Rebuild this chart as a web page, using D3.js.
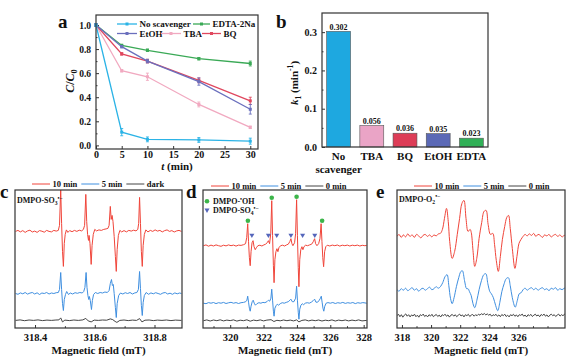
<!DOCTYPE html>
<html>
<head>
<meta charset="utf-8">
<script src="https://cdn.jsdelivr.net/npm/d3@7"></script>
<style>
body { margin: 0; background: #fff; }
svg { display: block; font-family: "Liberation Serif", "Times New Roman", serif; font-weight: bold; }
</style>
</head>
<body>
<svg id="fig" width="575" height="364"></svg>
<script>
// ---- panel a: C/C0 vs time ----
const times = [0, 5, 10, 20, 30];
const seriesNames = ["No scavenger", "EDTA-2Na", "EtOH", "TBA", "BQ"];
const noScavenger = [1.0, 0.11, 0.05, 0.045, 0.035];
const edta = [1.0, 0.83, 0.79, 0.72, 0.68];
const etoh = [1.0, 0.82, 0.70, 0.53, 0.30];
const tba = [1.0, 0.62, 0.57, 0.34, 0.15];
const bq = [1.0, 0.76, 0.70, 0.54, 0.37];
const noScavengerErr = [0.01, 0.03, 0.02, 0.02, 0.025];
const edtaErr = [0.01, 0.01, 0.01, 0.01, 0.02];
const etohErr = [0.01, 0.01, 0.015, 0.03, 0.04];
const tbaErr = [0.01, 0.01, 0.03, 0.02, 0.01];
const bqErr = [0.01, 0.01, 0.015, 0.02, 0.03];
const yTicksA = [0, 0.2, 0.4, 0.6, 0.8, 1.0];
const xTicksA = [0, 5, 10, 15, 20, 25, 30];

// ---- panel b: rate constants ----
const scavengers = ["No scavenger", "TBA", "BQ", "EtOH", "EDTA"];
const scavengerLabels = [["No", "scavenger"], ["TBA"], ["BQ"], ["EtOH"], ["EDTA"]];
const kValues = [0.302, 0.056, 0.036, 0.035, 0.023];
const yTicksB = [0, 0.1, 0.2, 0.3];

// ---- panel c: DMPO-SO3 spectra [field mT, intensity a.u.] ----
const cTicks = [318.4, 318.6, 318.8];
const c10 = [[318.335,0],[318.343,1],[318.351,-0.5],[318.359,0.8],[318.367,-1],[318.375,0.5],[318.383,1.2],[318.391,-0.6],[318.399,0.3],[318.407,-1],[318.415,0.8],[318.423,0.2],[318.431,-0.8],[318.439,1],[318.447,0],[318.455,-0.5],[318.463,1],[318.471,0.3],[318.478,1],[318.482,6],[318.486,42],[318.489,8],[318.492,-20],[318.495,-35],[318.498,-12],[318.501,-3],[318.505,1.5],[318.510,-1],[318.516,0.8],[318.524,-0.3],[318.532,1],[318.540,0],[318.548,1.2],[318.556,0.5],[318.562,2],[318.566,6],[318.570,37],[318.573,10],[318.576,-3],[318.579,-9],[318.581,-4],[318.584,-12],[318.588,-33],[318.591,-14],[318.595,-3],[318.600,2],[318.606,0.5],[318.614,1.5],[318.622,1],[318.630,2],[318.638,2.5],[318.644,3],[318.648,6],[318.652,25],[318.655,12],[318.658,16],[318.661,10],[318.665,-5],[318.669,-25],[318.672,-40],[318.675,-18],[318.679,-4],[318.684,1],[318.690,-0.5],[318.698,0.8],[318.706,-0.5],[318.714,1],[318.722,0.3],[318.730,1.2],[318.738,0.5],[318.744,2],[318.747,8],[318.750,34],[318.753,8],[318.756,-20],[318.759,-35],[318.762,-14],[318.766,-3],[318.771,1.5],[318.778,-0.5],[318.786,1],[318.794,0],[318.802,1.5],[318.810,0.3],[318.818,1],[318.826,-0.5],[318.834,0.8],[318.842,1.5],[318.850,0],[318.858,0.8],[318.866,-0.6],[318.874,0.5],[318.882,1],[318.890,0]];
const c5 = [[318.335,0],[318.343,-0.8],[318.351,0.6],[318.359,-0.3],[318.367,1],[318.375,-0.6],[318.383,0.4],[318.391,1],[318.399,-0.5],[318.407,0.7],[318.415,-1],[318.423,0.5],[318.431,0],[318.439,1],[318.447,-0.5],[318.455,0.5],[318.463,0],[318.471,0.8],[318.478,1],[318.482,4],[318.486,21],[318.489,4],[318.492,-10],[318.495,-17],[318.498,-6],[318.502,-1],[318.506,2],[318.512,-1],[318.518,0.5],[318.526,-0.5],[318.534,0.8],[318.542,0.2],[318.550,1],[318.558,0.5],[318.563,2],[318.567,6],[318.571,21],[318.574,6],[318.577,-2],[318.580,-6],[318.582,-3],[318.585,-7],[318.589,-16],[318.592,-7],[318.596,-1],[318.602,1],[318.610,0],[318.618,1],[318.626,0.5],[318.634,1.5],[318.642,1],[318.648,3],[318.652,10],[318.656,14],[318.659,8],[318.662,9],[318.665,0],[318.669,-14],[318.672,-24],[318.675,-10],[318.680,-2],[318.686,0.5],[318.694,-0.5],[318.702,0.8],[318.710,0],[318.718,1],[318.726,-0.5],[318.734,0.6],[318.741,1],[318.746,4],[318.750,22],[318.753,5],[318.756,-12],[318.759,-22],[318.762,-9],[318.766,-2],[318.772,1],[318.780,-0.8],[318.788,0.6],[318.796,-0.3],[318.804,0.8],[318.812,0],[318.820,-0.8],[318.828,0.5],[318.836,1],[318.844,-0.5],[318.852,0.3],[318.860,-0.8],[318.868,0.6],[318.876,-0.3],[318.884,0.5],[318.890,0]];
const cDark = [[318.335,0],[318.350,0.5],[318.365,-0.3],[318.380,0.4],[318.395,0],[318.410,0.5],[318.425,-0.2],[318.440,0.3],[318.455,0],[318.470,0.4],[318.480,0.5],[318.486,2.5],[318.492,-1.5],[318.500,0.3],[318.515,-0.2],[318.530,0.4],[318.545,0],[318.560,0.5],[318.570,2],[318.578,-0.5],[318.588,-1.5],[318.598,0.3],[318.612,0],[318.626,0.4],[318.640,0.2],[318.652,1.5],[318.660,0.8],[318.668,-1],[318.674,-2],[318.684,0],[318.698,0.4],[318.712,-0.2],[318.726,0.3],[318.740,0],[318.750,1.8],[318.758,-1.5],[318.768,0.2],[318.782,0.4],[318.796,-0.2],[318.810,0.3],[318.825,0],[318.840,0.4],[318.855,-0.2],[318.870,0.3],[318.890,0]];

// ---- panel d: DMPO-OH / DMPO-SO4 spectra ----
const dTicks = [320, 322, 324, 326, 328];
const dOH = [321.06, 322.49, 323.98, 325.51];
const dSO4 = [321.30, 322.29, 322.79, 323.64, 324.34, 325.07];
const d10 = [[318.40,0],[318.55,0.8],[318.70,-0.5],[318.85,0.6],[319.00,-0.3],[319.15,0.8],[319.30,0],[319.45,-0.6],[319.60,0.5],[319.75,-0.2],[319.90,0.8],[320.05,0],[320.20,0.6],[320.35,-0.4],[320.50,0.6],[320.65,0.3],[320.80,1],[320.92,2],[320.99,8],[321.05,22],[321.10,4],[321.15,-12],[321.20,-20],[321.25,-6],[321.31,3],[321.37,5],[321.43,-1],[321.50,-4],[321.57,-2],[321.66,0],[321.78,0.5],[321.90,-0.3],[322.02,0.8],[322.12,1.5],[322.22,3],[322.29,5],[322.36,2],[322.43,12],[322.49,45],[322.54,10],[322.59,-20],[322.63,-37],[322.68,-14],[322.74,-6],[322.80,-3],[322.86,-6],[322.92,-2],[323.02,0],[323.14,0.5],[323.26,-0.3],[323.38,0.8],[323.48,1.5],[323.57,4],[323.64,7],[323.70,2],[323.76,0],[323.86,3],[323.92,12],[323.98,46],[324.03,10],[324.08,-22],[324.12,-41],[324.17,-14],[324.23,-4],[324.30,-1],[324.36,-4],[324.42,-1],[324.52,0.5],[324.64,0],[324.76,0.8],[324.88,1.5],[324.98,4],[325.06,7],[325.12,2],[325.20,0],[325.30,2],[325.38,7],[325.45,22],[325.50,4],[325.55,-12],[325.60,-21],[325.66,-6],[325.73,-1],[325.82,0.5],[325.97,-0.3],[326.12,0.6],[326.27,0],[326.42,0.7],[326.57,-0.4],[326.72,0.5],[326.87,0],[327.02,0.6],[327.17,-0.3],[327.32,0.5],[327.47,0],[327.62,0.6],[327.77,-0.3],[327.92,0.4],[328.07,0],[328.18,0.3]];
const d5 = [[318.40,0],[318.55,-0.5],[318.70,0.6],[318.85,0],[319.00,0.7],[319.15,-0.4],[319.30,0.5],[319.45,0],[319.60,0.8],[319.75,-0.3],[319.90,0.4],[320.05,0.9],[320.20,0],[320.35,0.6],[320.50,-0.3],[320.65,0.5],[320.80,0.8],[320.93,1.5],[321.00,3],[321.05,7],[321.10,1],[321.15,-5],[321.20,-8],[321.25,-3],[321.32,1.5],[321.38,3],[321.44,0],[321.51,-2],[321.60,-0.5],[321.72,0.5],[321.84,0],[321.96,0.8],[322.08,0.5],[322.20,1.5],[322.29,3],[322.37,2],[322.44,5],[322.49,14],[322.54,3],[322.59,-8],[322.63,-13],[322.68,-5],[322.75,-2.5],[322.82,-1],[322.90,-2],[323.00,-0.5],[323.12,0.5],[323.24,0],[323.36,0.8],[323.48,1.5],[323.58,3],[323.64,4],[323.72,1.5],[323.82,1.5],[323.92,5],[323.98,17],[324.03,3],[324.08,-9],[324.12,-16],[324.17,-6],[324.24,-2],[324.32,-0.5],[324.40,-1.5],[324.50,0],[324.62,0.5],[324.74,0],[324.86,1],[324.97,2.5],[325.06,4],[325.14,1],[325.24,1],[325.34,3],[325.41,5],[325.46,7],[325.51,1],[325.56,-5],[325.61,-8],[325.67,-3],[325.75,0],[325.86,0.6],[326.00,0],[326.15,0.7],[326.30,-0.3],[326.45,0.5],[326.60,0],[326.75,0.8],[326.90,-0.2],[327.05,0.5],[327.20,0],[327.35,0.7],[327.50,-0.4],[327.65,0.5],[327.80,0],[327.95,0.6],[328.18,0]];
const d0 = [[318.40,0],[318.60,0.8],[318.80,-0.3],[319.00,0.7],[319.20,0],[319.40,0.9],[319.60,-0.2],[319.80,0.6],[320.00,0.1],[320.20,0.8],[320.40,-0.4],[320.60,0.5],[320.80,0],[321.00,0.9],[321.20,-0.5],[321.40,0.6],[321.60,0],[321.80,0.8],[322.00,-0.2],[322.20,0.6],[322.45,1],[322.62,-0.8],[322.80,0.4],[323.00,-0.1],[323.20,0.7],[323.40,0],[323.60,0.6],[323.80,-0.2],[323.98,0.8],[324.12,-1.2],[324.30,0.3],[324.50,0.8],[324.70,-0.2],[324.90,0.6],[325.10,0],[325.30,0.7],[325.50,-0.3],[325.70,0.5],[325.90,0],[326.10,0.8],[326.30,-0.3],[326.50,0.6],[326.70,0],[326.90,0.7],[327.10,-0.2],[327.30,0.6],[327.50,0],[327.70,0.8],[327.90,-0.2],[328.18,0.3]];

// ---- panel e: DMPO-O2 spectra ----
const eTicks = [318, 320, 322, 324, 326];
const e10 = [[317.66,0],[317.80,2],[317.95,-1],[318.10,1.5],[318.25,-0.5],[318.40,2.5],[318.55,0],[318.70,1.5],[318.85,-1],[319.00,2],[319.15,0.5],[319.30,-1.5],[319.45,1],[319.60,2],[319.75,0],[319.90,1.5],[320.05,-0.5],[320.20,1.5],[320.35,0.5],[320.50,2.5],[320.64,3],[320.78,7],[320.92,18],[321.06,28],[321.18,15],[321.28,-5],[321.45,-22],[321.62,-15],[321.80,2],[321.96,18],[322.12,33],[322.26,36],[322.40,18],[322.54,5],[322.68,7],[322.76,4],[322.88,-14],[323.00,-30],[323.14,-22],[323.30,-2],[323.48,14],[323.64,25],[323.78,26],[323.92,12],[324.08,2],[324.24,3],[324.36,-8],[324.48,-24],[324.62,-35],[324.76,-20],[324.90,-3],[325.06,10],[325.20,19],[325.32,21],[325.44,8],[325.58,-12],[325.76,-32],[325.90,-20],[326.04,-7],[326.18,-3],[326.32,0],[326.46,2],[326.60,0.5],[326.75,2.5],[326.90,1],[327.05,3],[327.20,0],[327.35,2],[327.50,1],[327.65,-1],[327.80,1.5],[327.95,0.5],[328.10,2],[328.25,-0.5],[328.40,1],[328.55,2],[328.70,0],[328.85,1.5],[329.00,-0.5],[329.15,1],[329.28,0.5]];
const e5 = [[317.66,0],[317.80,-1.5],[317.95,1],[318.10,-0.5],[318.25,1.5],[318.40,-1],[318.55,0.5],[318.70,2],[318.85,-0.5],[319.00,1],[319.15,-1.5],[319.30,0.5],[319.45,1.5],[319.60,-0.5],[319.75,1],[319.90,2.5],[320.05,0],[320.20,1],[320.35,3],[320.50,1.5],[320.64,3],[320.80,7],[320.96,13],[321.10,15],[321.22,4],[321.34,-9],[321.45,-14],[321.58,-8],[321.74,3],[321.90,12],[322.04,18],[322.15,19],[322.30,9],[322.44,1],[322.54,1],[322.64,-2],[322.76,-6],[322.88,-14],[323.00,-18],[323.14,-11],[323.30,0],[323.46,9],[323.62,15],[323.76,16],[323.90,6],[324.04,-2],[324.14,-4],[324.28,-8],[324.44,-16],[324.58,-21],[324.72,-13],[324.86,-2],[325.02,6],[325.16,11],[325.31,12],[325.44,4],[325.58,-8],[325.78,-17.5],[325.92,-11],[326.06,-4],[326.19,-3],[326.32,0],[326.46,1.5],[326.60,-0.5],[326.75,1],[326.90,2],[327.05,0],[327.20,1.5],[327.35,-0.5],[327.50,1],[327.65,2],[327.80,0],[327.95,1],[328.10,-1],[328.25,1.5],[328.40,0.5],[328.55,2],[328.70,-0.5],[328.85,1],[329.00,0],[329.15,1.5],[329.28,0.5]];
const e0 = [[317.66,0],[317.76,1.5],[317.86,-1],[317.96,1],[318.06,-1.5],[318.16,0.5],[318.26,1.8],[318.36,-0.5],[318.46,1],[318.56,-1.2],[318.66,0.8],[318.76,-0.3],[318.86,1.5],[318.96,-1],[319.06,0.5],[319.16,-1.5],[319.26,1],[319.36,0],[319.46,1.6],[319.56,-0.8],[319.66,0.5],[319.76,-1.2],[319.86,1],[319.96,-0.4],[320.06,1.4],[320.16,-1],[320.26,0.3],[320.36,1.2],[320.46,-0.8],[320.56,0.6],[320.66,-1.3],[320.76,1],[320.86,0],[320.96,1.5],[321.06,-0.6],[321.16,0.8],[321.26,-1.4],[321.36,0.5],[321.46,1.2],[321.56,-0.5],[321.66,1],[321.76,-1],[321.86,0.4],[321.96,1.6],[322.06,-0.3],[322.16,0.8],[322.26,-1.2],[322.36,1],[322.46,0],[322.56,1.4],[322.66,-0.8],[322.76,0.6],[322.86,1.2],[322.96,-0.5],[323.06,1],[323.16,0],[323.26,1.5],[323.36,0.5],[323.46,2],[323.56,1],[323.66,2.2],[323.76,0.8],[323.86,1.8],[323.96,0.5],[324.06,1.5],[324.16,-0.5],[324.26,1],[324.36,0.2],[324.46,1.4],[324.56,-0.6],[324.66,0.8],[324.76,-1],[324.86,1.2],[324.96,0],[325.06,1.5],[325.16,-0.8],[325.26,0.5],[325.36,-1.2],[325.46,1],[325.56,0],[325.66,1.4],[325.76,-0.6],[325.86,0.8],[325.96,-1],[326.06,1],[326.16,0.3],[326.26,1.6],[326.36,-0.5],[326.46,0.6],[326.56,-1.2],[326.66,1],[326.76,0],[326.86,1.3],[326.96,-0.8],[327.06,0.5],[327.16,1.5],[327.26,-0.3],[327.36,0.8],[327.46,-1],[327.56,1.2],[327.66,0.2],[327.76,1.6],[327.86,-0.5],[327.96,0.8],[328.06,-1.2],[328.16,0.6],[328.26,1.5],[328.36,0],[328.46,1],[328.56,-0.8],[328.66,0.5],[328.76,1.6],[328.86,-0.4],[328.96,1],[329.06,0],[329.16,1.4],[329.28,0.3]];

const lineColors = ["#2bb3e6", "#3aa956", "#6a6fbd", "#f1a9c0", "#e0475e"];
const barColors = ["#1ea8e0", "#eaa4c6", "#dd3d57", "#5b69b6", "#30b057"];
const red = "#f0453a", blue = "#3f8fe0", dark = "#444";
const ink = "#333";

const svg = d3.select("#fig");

// rich text with sub/superscripts: parts = [[text, mode, italic]]
function rich(t, parts, size) {
  let shift = 0;
  parts.forEach(([s, mode, it]) => {
    const target = mode === "sub" ? size * 0.3 : mode === "sup" ? -size * 0.42 : 0;
    t.append("tspan")
      .attr("dy", target - shift)
      .attr("font-size", mode === "n" ? size : size * 0.7)
      .attr("font-style", it ? "italic" : null)
      .text(s);
    shift = target;
  });
  return t;
}

function box(p) {
  svg.append("rect")
    .attr("x", p.x0).attr("y", p.y0)
    .attr("width", p.x1 - p.x0).attr("height", p.y1 - p.y0)
    .attr("fill", "none").attr("stroke", ink).attr("stroke-width", 1.2);
}

function styleAxis(g, size) {
  g.select(".domain").remove();
  g.selectAll(".tick line").attr("stroke", ink).attr("stroke-width", 1);
  g.selectAll(".tick text").attr("fill", "#111").attr("font-size", size)
    .attr("font-family", "Liberation Serif, serif").attr("font-weight", "bold");
}

function letter(s, x, y) {
  svg.append("text").attr("x", x).attr("y", y).attr("font-size", 19).attr("fill", "#111").text(s);
}

// ================= panel a =================
const pa = { x0: 96, x1: 258, y0: 15, y1: 149 };
const xa = d3.scaleLinear().domain([0, 31.5]).range([pa.x0, pa.x1]);
const ya = d3.scaleLinear().domain([-0.03, 1.083]).range([pa.y1, pa.y0]);

svg.append("g").attr("transform", `translate(0,${pa.y1})`)
  .call(d3.axisBottom(xa).tickValues(xTicksA).tickSize(-3).tickPadding(1.5))
  .call(g => styleAxis(g, 10));
svg.append("g").attr("transform", `translate(${pa.x0},0)`)
  .call(d3.axisLeft(ya).tickValues(yTicksA).tickFormat(d3.format(".1f")).tickSize(-3).tickPadding(5))
  .call(g => styleAxis(g, 9.5));
svg.append("g").attr("transform", `translate(${pa.x0},0)`)
  .call(d3.axisLeft(ya).tickValues([0.1, 0.3, 0.5, 0.7, 0.9]).tickFormat("").tickSize(-1.5))
  .call(g => styleAxis(g, 10));

const seriesA = [noScavenger, edta, etoh, tba, bq];
const errA = [noScavengerErr, edtaErr, etohErr, tbaErr, bqErr];
const lineA = d3.line().x((d, i) => xa(times[i])).y(d => ya(d));
const drawOrder = [1, 3, 4, 2, 0];
drawOrder.forEach(k => {
  const vals = seriesA[k], col = lineColors[k];
  const g = svg.append("g");
  g.append("path").attr("d", lineA(vals)).attr("fill", "none").attr("stroke", col).attr("stroke-width", 1.3);
  vals.forEach((v, i) => {
    const x = xa(times[i]), e = errA[k][i];
    g.append("line").attr("x1", x).attr("x2", x).attr("y1", ya(v - e)).attr("y2", ya(v + e)).attr("stroke", col).attr("stroke-width", 0.9);
    [v - e, v + e].forEach(b => g.append("line").attr("x1", x - 1.5).attr("x2", x + 1.5).attr("y1", ya(b)).attr("y2", ya(b)).attr("stroke", col).attr("stroke-width", 0.9));
    g.append("rect").attr("x", x - 1.5).attr("y", ya(v) - 1.5).attr("width", 3).attr("height", 3).attr("fill", col);
  });
});
box(pa);

// legend a
const legA = [
  { k: 0, x: 117, w: 20, y: 24 }, { k: 1, x: 193, w: 17, y: 24 },
  { k: 2, x: 117, w: 20, y: 33.5 }, { k: 3, x: 161, w: 20, y: 33.5 }, { k: 4, x: 202, w: 19, y: 33.5 }
];
legA.forEach(l => {
  const col = lineColors[l.k];
  svg.append("line").attr("x1", l.x).attr("x2", l.x + l.w).attr("y1", l.y).attr("y2", l.y).attr("stroke", col).attr("stroke-width", 1.3);
  svg.append("rect").attr("x", l.x + l.w / 2 - 1.5).attr("y", l.y - 1.5).attr("width", 3).attr("height", 3).attr("fill", col);
  svg.append("text").attr("x", l.x + l.w + 2.5).attr("y", l.y + 3).attr("font-size", 9).attr("fill", "#111").text(seriesNames[l.k]);
});

rich(svg.append("text").attr("transform", "translate(73.5,81) rotate(-90)").attr("text-anchor", "middle").attr("fill", "#111"),
  [["C", "n", true], ["/", "n", false], ["C", "n", true], ["0", "sub", false]], 12);
rich(svg.append("text").attr("x", 177).attr("y", 169.5).attr("text-anchor", "middle").attr("fill", "#111"),
  [["t", "n", true], [" (min)", "n", false]], 11);
letter("a", 58, 28);

// ================= panel b =================
const pb = { x0: 322, x1: 488, y0: 13, y1: 147 };
const xb = d3.scaleBand().domain(scavengers).range([pb.x0, pb.x1]).paddingInner(0.28).paddingOuter(0.14);
const yb = d3.scaleLinear().domain([0, 0.35]).range([pb.y1, pb.y0]);

svg.append("g").attr("transform", `translate(${pb.x0},0)`)
  .call(d3.axisLeft(yb).tickValues(yTicksB).tickFormat(d3.format(".1f")).tickSize(-3).tickPadding(5))
  .call(g => styleAxis(g, 10));
svg.append("g").attr("transform", `translate(${pb.x0},0)`)
  .call(d3.axisLeft(yb).tickValues([0.05, 0.15, 0.25]).tickFormat("").tickSize(-1.5))
  .call(g => styleAxis(g, 10));

scavengers.forEach((s, i) => {
  svg.append("rect").attr("x", xb(s)).attr("y", yb(kValues[i]))
    .attr("width", xb.bandwidth()).attr("height", yb(0) - yb(kValues[i]))
    .attr("fill", barColors[i]).attr("stroke", "#555").attr("stroke-width", 0.6);
  svg.append("text").attr("x", xb(s) + xb.bandwidth() / 2).attr("y", yb(kValues[i]) - 1.8)
    .attr("text-anchor", "middle").attr("font-size", 8).attr("fill", "#111").text(d3.format(".3f")(kValues[i]));
  scavengerLabels[i].forEach((ln, j) => {
    svg.append("text").attr("x", xb(s) + xb.bandwidth() / 2).attr("y", 159.5 + j * 13)
      .attr("text-anchor", "middle").attr("font-size", 11).attr("fill", "#111").text(ln);
  });
});
box(pb);
rich(svg.append("text").attr("transform", "translate(298,83) rotate(-90)").attr("text-anchor", "middle").attr("fill", "#111"),
  [["k", "n", true], ["1", "sub", false], [" (min", "n", false], ["-1", "sup", false], [")", "n", false]], 11);
letter("b", 276, 28);

// ================= EPR panels =================
function eprPanel(p, domain, ticks, minor, tickFmt, traces, clipId) {
  const x = d3.scaleLinear().domain(domain).range([p.x0, p.x1]);
  const y = d3.scaleLinear().domain([0, p.y1 - p.y0]).range([p.y1, p.y0]);
  svg.append("clipPath").attr("id", clipId).append("rect")
    .attr("x", p.x0).attr("y", p.y0).attr("width", p.x1 - p.x0).attr("height", p.y1 - p.y0);
  const g = svg.append("g").attr("clip-path", `url(#${clipId})`);
  traces.forEach(t => {
    const line = d3.line().x(d => x(d[0])).y(d => y(t.offset + d[1])).curve(t.curve || d3.curveLinear);
    g.append("path").attr("d", line(t.data)).attr("fill", "none").attr("stroke", t.color).attr("stroke-width", 1).attr("stroke-linejoin", "round");
  });
  svg.append("g").attr("transform", `translate(0,${p.y1})`)
    .call(d3.axisBottom(x).tickValues(ticks).tickFormat(tickFmt).tickSize(-3).tickPadding(6))
    .call(g => styleAxis(g, 10.5));
  svg.append("g").attr("transform", `translate(0,${p.y1})`)
    .call(d3.axisBottom(x).tickValues(minor).tickFormat("").tickSize(-1.8))
    .call(g => styleAxis(g, 10.5));
  box(p);
  svg.append("text").attr("x", (p.x0 + p.x1) / 2).attr("y", 354).attr("text-anchor", "middle")
    .attr("font-size", 11).attr("fill", "#111").text("Magnetic field (mT)");
  return { x, y };
}

function topLegend(x0, y, labels) {
  let x = x0;
  const cols = [red, blue, dark];
  labels.forEach((lab, i) => {
    svg.append("line").attr("x1", x).attr("x2", x + 18).attr("y1", y).attr("y2", y).attr("stroke", cols[i]).attr("stroke-width", 1);
    const t = svg.append("text").attr("x", x + 20.5).attr("y", y + 3).attr("font-size", 8.5).attr("fill", "#111").text(lab);
    x += 20.5 + t.node().getComputedTextLength() + 4;
  });
}

// panel c
const pc = { x0: 15, x1: 182, y0: 190, y1: 328 };
eprPanel(pc, [318.333, 318.892], cTicks, [318.5, 318.7], d3.format(".1f"), [
  { data: cDark, color: dark, offset: 7.6 },
  { data: c5, color: blue, offset: 34.5 },
  { data: c10, color: red, offset: 96.6 }
], "clipC");
topLegend(32, 184, ["10 min", "5 min", "dark"]);
rich(svg.append("text").attr("x", 17).attr("y", 203).attr("fill", "#111"),
  [["DMPO-SO", "n", false], ["3", "sub", false], ["•−", "sup", false]], 8);
letter("c", 0, 198);

// panel d
const pd = { x0: 203, x1: 367, y0: 190, y1: 328 };
const sd = eprPanel(pd, [318.37, 328.2], dTicks, [319, 321, 323, 325, 327], d3.format("d"), [
  { data: d0, color: dark, offset: 7.3 },
  { data: d5, color: blue, offset: 24.8 },
  { data: d10, color: red, offset: 82.3 }
], "clipD");
const green = "#3cb54a", triBlue = "#5566bb";
dOH.forEach(f => {
  const top = d3.max(d10.filter(d => Math.abs(d[0] - f) < 0.12), d => d[1]);
  svg.append("circle").attr("cx", sd.x(f)).attr("cy", sd.y(82.3 + top) - 3).attr("r", 2.3).attr("fill", green);
});
const tri = d3.symbol().type(d3.symbolTriangle).size(11);
dSO4.forEach(f => {
  svg.append("path").attr("d", tri()).attr("fill", triBlue)
    .attr("transform", `translate(${sd.x(f)},${sd.y(82.3 + 10.5)}) rotate(180)`);
});
svg.append("circle").attr("cx", 207).attr("cy", 201.3).attr("r", 2.3).attr("fill", green);
rich(svg.append("text").attr("x", 213).attr("y", 204).attr("fill", "#111"),
  [["DMPO-", "n", false], ["•", "sup", false], ["OH", "n", false]], 8);
svg.append("path").attr("d", tri()).attr("fill", triBlue).attr("transform", "translate(207,210) rotate(180)");
rich(svg.append("text").attr("x", 213).attr("y", 213).attr("fill", "#111"),
  [["DMPO-SO", "n", false], ["4", "sub", false], ["•−", "sup", false]], 8);
topLegend(211, 186, ["10 min", "5 min", "0 min"]);
letter("d", 186, 198);

// panel e
const pe = { x0: 397, x1: 565, y0: 190, y1: 328 };
eprPanel(pe, [317.66, 329.2], eTicks, [319, 321, 323, 325, 327, 328], d3.format("d"), [
  { data: e0, color: dark, offset: 12.3 },
  { data: e5, color: blue, offset: 38.3, curve: d3.curveCatmullRom },
  { data: e10, color: red, offset: 91.6, curve: d3.curveCatmullRom }
], "clipE");
topLegend(414, 186, ["10 min", "5 min", "0 min"]);
rich(svg.append("text").attr("x", 399).attr("y", 201.5).attr("fill", "#111"),
  [["DMPO-O", "n", false], ["2", "sub", false], ["•−", "sup", false]], 8);
letter("e", 376, 198);
</script>
</body>
</html>
